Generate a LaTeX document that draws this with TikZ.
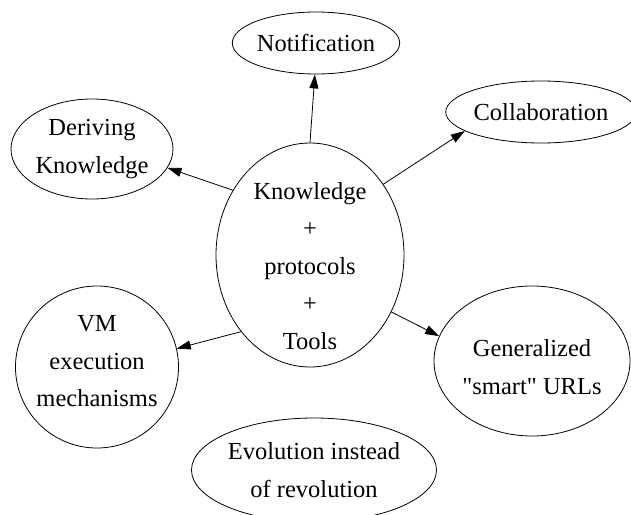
\documentclass[tikz,border=0pt]{standalone}
\usepackage{fontspec}
\setmainfont{Liberation Serif}[Ligatures=TeXOff]
\usetikzlibrary{arrows.meta, shapes.geometric}
\tikzset{
  every picture/.style={line width=0.8pt},
  bubble/.style 2 args={ellipse, draw, align=center, inner sep=0pt, minimum width=#1, minimum height=#2, font=\fontsize{24.5pt}{37.5pt}\selectfont},
  arrow/.style={-{Triangle[length=14pt, width=9pt]}},
}

\begin{document}
\begin{tikzpicture}[x=1pt, y=-1pt]
  \useasboundingbox (0,0) rectangle (631,514);
  % hub in the middle
  \node[bubble={188pt}{224pt}, inner sep=-24pt] (core) at (310,255) {\rule{0pt}{39pt}Knowledge\\+\\protocols\\+\\Tools};
  % what grows out of it
  \node[bubble={162pt}{62pt}] (notif) at (316,43) {Notification};
  \node[bubble={176pt}{62pt}] (collab) at (541,112) {Collaboration};
  \node[bubble={162pt}{100pt}] (derive) at (92,149) {Deriving\\Knowledge};
  \node[bubble={163pt}{162pt}, inner sep=-12pt] (vm) at (97,367) {VM\\execution\\mechanisms\rule[-12pt]{0pt}{0pt}};
  \node[bubble={196pt}{150pt}, inner sep=-8pt] (urls) at (532,361) {\rule{0pt}{29pt}Generalized\\"smart" URLs};
  \node[bubble={245pt}{104pt}] (evol) at (314,470) {Evolution instead\\of revolution};
  \draw[arrow] (core.140) -- (derive.-14);
  \draw[arrow] (core.90) -- (notif.-92);
  \draw[arrow] (core.44) -- (collab.194);
  \draw[arrow] (core.-132) -- (vm.13);
  \draw[arrow] (core.-35) -- (urls.165);
\end{tikzpicture}
\end{document}
